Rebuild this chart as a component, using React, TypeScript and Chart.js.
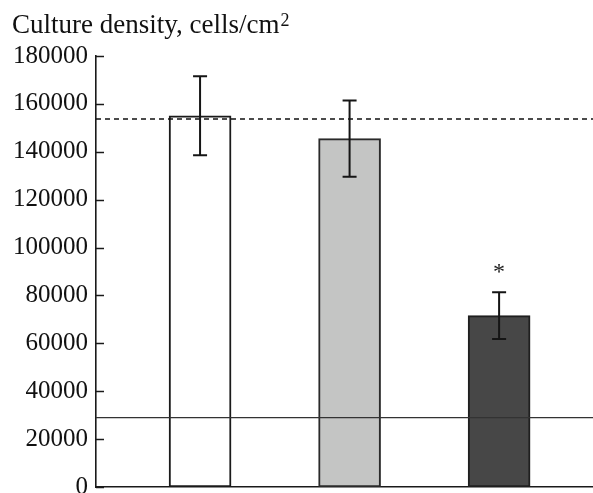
import React, { useEffect, useRef } from "react";
import { Chart, registerables } from "chart.js";

Chart.register(...registerables);

// ---- data ----
const groupPositions = [1, 2, 3];
const meanDensity = [155000, 145500, 71600];
const errorSize = [16500, 15900, 9750];
const significance = ["", "", "*"];
const dashedReference = 153700;
const solidReference = 29000;
const yMin = 0;
const yMax = 180000;
const yStep = 20000;
const titleText = "Culture density, cells/cm";
const titleSup = "2";

const barFills = ["#ffffff", "#c4c5c4", "#474747"];
const barBorders = ["#1a1a1a", "#2a2a2a", "#1f1f1f"];

const X_MIN = 0.304;
const X_MAX = 3.628;
const FONT = "'Liberation Serif', 'Times New Roman', serif";

const overlayPlugin = {
  id: "overlay",
  afterDatasetsDraw(chart: any) {
    const ctx = chart.ctx;
    const xs = chart.scales.x;
    const ys = chart.scales.y;
    ctx.save();
    // inward tick marks
    ctx.strokeStyle = "#1a1a1a";
    ctx.lineWidth = 1.5;
    const ax = chart.chartArea.left;
    ys.ticks.forEach((t: any) => {
      const y = Math.round(ys.getPixelForValue(t.value)) + 0.5;
      ctx.beginPath();
      ctx.moveTo(ax, y);
      ctx.lineTo(ax + 8, y);
      ctx.stroke();
    });
    // error bars
    ctx.lineWidth = 2;
    ctx.strokeStyle = "#151515";
    groupPositions.forEach((p, i) => {
      const x = xs.getPixelForValue(p);
      const yt = ys.getPixelForValue(meanDensity[i] + errorSize[i]);
      const yb = ys.getPixelForValue(meanDensity[i] - errorSize[i]);
      ctx.beginPath();
      ctx.moveTo(x, yt);
      ctx.lineTo(x, yb);
      ctx.moveTo(x - 7, yt);
      ctx.lineTo(x + 7, yt);
      ctx.moveTo(x - 7, yb);
      ctx.lineTo(x + 7, yb);
      ctx.stroke();
      if (significance[i]) {
        ctx.fillStyle = "#1a1a1a";
        ctx.font = `24px ${FONT}`;
        ctx.textAlign = "center";
        ctx.textBaseline = "middle";
        ctx.fillText(significance[i], x, yt - 20);
      }
    });
    ctx.restore();
  },
  afterDraw(chart: any) {
    const ctx = chart.ctx;
    ctx.save();
    ctx.fillStyle = "#111";
    ctx.textAlign = "left";
    ctx.textBaseline = "alphabetic";
    ctx.font = `27px ${FONT}`;
    ctx.fillText(titleText, 12, 33);
    const w = ctx.measureText(titleText).width;
    ctx.font = `18px ${FONT}`;
    ctx.fillText(titleSup, 12 + w + 1, 26);
    ctx.restore();
  },
};

export default function App() {
  const ref = useRef<HTMLCanvasElement | null>(null);
  useEffect(() => {
    document.body.style.margin = "0";
    const chart = new Chart(ref.current as HTMLCanvasElement, {
      type: "bar",
      data: {
        datasets: [
          {
            type: "line",
            data: [
              { x: X_MIN, y: dashedReference },
              { x: X_MAX, y: dashedReference },
            ],
            borderColor: "#111",
            borderWidth: 1.6,
            borderDash: [5, 4],
            pointRadius: 0,
            order: 0,
          } as any,
          {
            type: "line",
            data: [
              { x: X_MIN, y: solidReference },
              { x: X_MAX, y: solidReference },
            ],
            borderColor: "#333",
            borderWidth: 1.3,
            pointRadius: 0,
            order: 0,
          } as any,
          {
            type: "bar",
            data: groupPositions.map((p, i) => ({ x: p, y: meanDensity[i] })),
            backgroundColor: barFills,
            borderColor: barBorders,
            borderWidth: 2,
            borderSkipped: false,
            barThickness: 62,
            order: 1,
          } as any,
        ],
      },
      options: {
        animation: false,
        responsive: false,
        maintainAspectRatio: false,
        layout: { padding: { top: 56, left: 0, right: 0, bottom: 0 } },
        plugins: { legend: { display: false }, tooltip: { enabled: false }, title: { display: false } },
        scales: {
          x: {
            type: "linear",
            offset: false,
            min: X_MIN,
            max: X_MAX,
            ticks: { display: false },
            grid: { display: false, drawTicks: false },
            border: { display: true, color: "#1a1a1a", width: 1.6 },
          },
          y: {
            min: yMin,
            max: yMax,
            afterFit: (s: any) => {
              s.width = 96;
            },
            ticks: {
              stepSize: yStep,
              padding: 8,
              color: "#111",
              font: { family: FONT, size: 25 },
              callback: (v: any) => String(v),
            },
            grid: { display: false, drawTicks: false },
            border: { display: true, color: "#1a1a1a", width: 1.6 },
          },
        },
      },
      plugins: [overlayPlugin],
    });
    return () => chart.destroy();
  }, []);
  return (
    <div style={{ width: 593, height: 493, overflow: "hidden", position: "relative", background: "#fff" }}>
      <canvas ref={ref} width={593} height={510} style={{ display: "block" }} />
    </div>
  );
}
